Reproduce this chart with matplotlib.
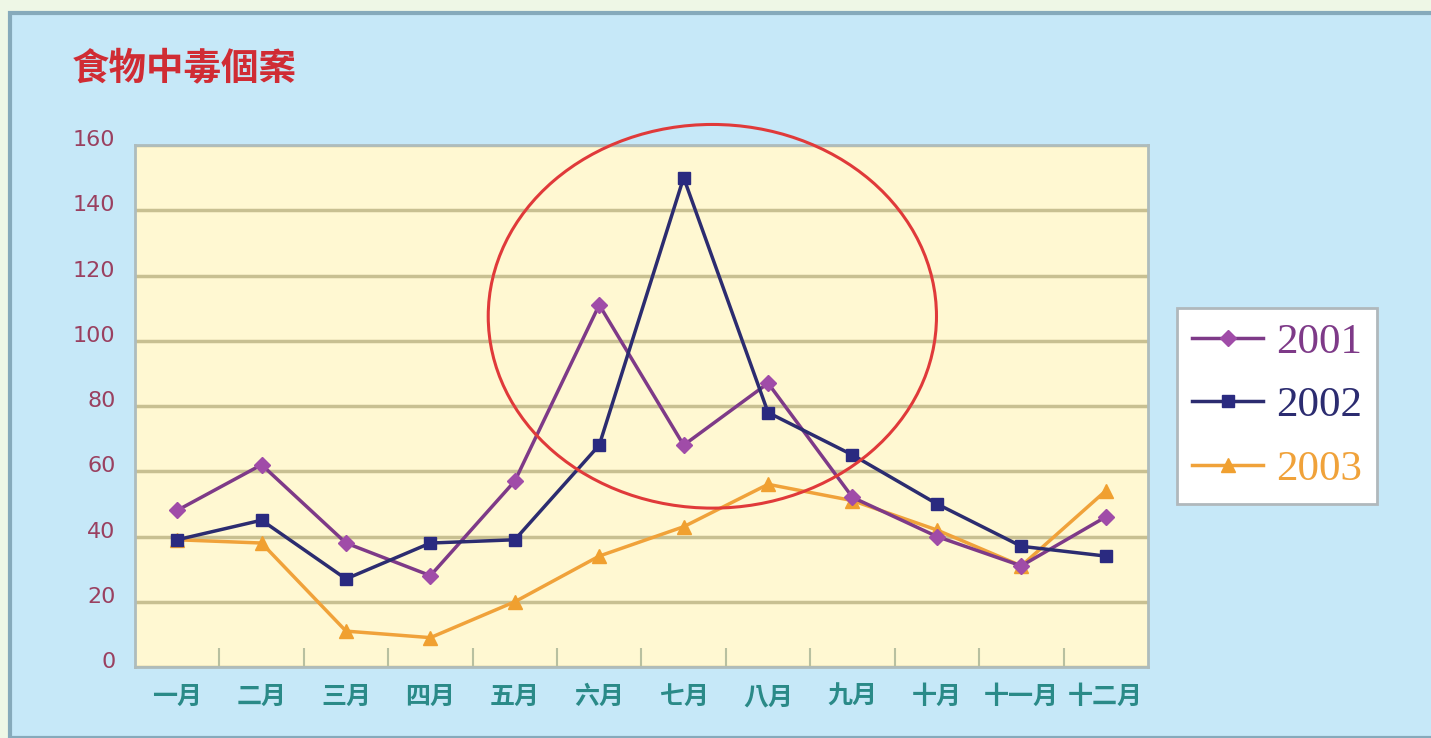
import matplotlib
matplotlib.use("Agg")
import matplotlib.pyplot as plt
import matplotlib.transforms as mtransforms
from matplotlib.patches import Ellipse, Rectangle
import numpy as np

plt.rcParams['font.family'] = ['Noto Sans CJK TC', 'DejaVu Sans']

months = ["一月", "二月", "三月", "四月", "五月", "六月",
          "七月", "八月", "九月", "十月", "十一月", "十二月"]
years = ["2001", "2002", "2003"]
cases_2001 = [48, 62, 38, 28, 57, 111, 68, 87, 52, 40, 31, 46]
cases_2002 = [39, 45, 27, 38, 39, 68, 150, 78, 65, 50, 37, 34]
cases_2003 = [39, 38, 11, 9, 20, 34, 43, 56, 51, 42, 31, 54]
yticks = [0, 20, 40, 60, 80, 100, 120, 140, 160]

fig = plt.figure(figsize=(14.31, 7.38), dpi=100)
fig.patch.set_facecolor("#eef7e6")

# light blue panel behind everything
panel = Rectangle((10 / 1431, 0), 1.0, 1 - 13 / 738, transform=fig.transFigure,
                  facecolor="#c6e8f8", edgecolor="#86aabb", linewidth=3, zorder=-10)
fig.patches.append(panel)

ax = fig.add_axes([0.0943, 0.0962, 0.8022 - 0.0943, 0.8035 - 0.0962])
ax.set_facecolor("#fff8d2")

x = np.arange(len(months))
ax.plot(x, cases_2001, color="#7e3a88", marker="D", markersize=8,
        markerfacecolor="#a04ca8", markeredgecolor="#a04ca8", linewidth=2.5, label=years[0], zorder=4)
ax.plot(x, cases_2002, color="#2c2c70", marker="s", markersize=8,
        markerfacecolor="#2a2a80", markeredgecolor="#2a2a80", linewidth=2.5, label=years[1], zorder=4)
ax.plot(x, cases_2003, color="#f0a23a", marker="^", markersize=10,
        markerfacecolor="#f0a030", markeredgecolor="#f0a030", linewidth=2.5, label=years[2], zorder=3)

ax.set_xlim(-0.5, len(months) - 0.5)
ax.set_ylim(0, 160)
ax.set_yticks(yticks)
ax.set_yticklabels([str(v) for v in yticks], fontsize=16, color="#9a4060",
                   family=['DejaVu Sans'])
ax.set_xticks(x)
ax.set_xticklabels(months, fontsize=18, color="#2a8a88", fontweight="bold")
ax.tick_params(axis="y", length=0, pad=14)
ax.tick_params(axis="x", which="major", length=0, pad=13)
ax.set_xticks(np.arange(0.5, len(months) - 0.5, 1), minor=True)
ax.tick_params(axis="x", which="minor", direction="in", length=14, width=1.5, color="#b8c0a0")

# y labels sit a little above their gridlines in the original
shift = mtransforms.ScaledTranslation(0, 7 / 100, fig.dpi_scale_trans)
for lab in ax.get_yticklabels():
    lab.set_transform(lab.get_transform() + shift)

ax.yaxis.grid(True, color="#c8c092", linewidth=2.5)
ax.set_axisbelow(True)
for side in ["top", "right", "bottom", "left"]:
    ax.spines[side].set_color("#aebcbc")
    ax.spines[side].set_linewidth(2)

# highlight circle around the summer peak
ell = Ellipse((6.34, 107.5), 5.31, 117.6, fill=False, edgecolor="#e03a3a",
              linewidth=2.2, clip_on=False, zorder=5)
ax.add_patch(ell)

fig.text(72 / 1431, 1 - 68 / 738, "食物中毒個案", fontsize=27, fontweight="bold",
         color="#d02c34", va="center", ha="left")

leg = ax.legend(loc="upper left", bbox_to_anchor=(0.8225, 0.5827),
                bbox_transform=fig.transFigure, fancybox=False, frameon=True,
                framealpha=1.0,
                prop={"family": "Liberation Serif", "size": 31},
                handlelength=1.65, handletextpad=0.3, borderpad=0.35, labelspacing=0.56,
                borderaxespad=0)
leg.get_frame().set_edgecolor("#b0b8bc")
leg.get_frame().set_linewidth(2)
leg.get_frame().set_facecolor("#ffffff")
for txt, col in zip(leg.get_texts(), ["#7e3a88", "#2c2c70", "#f0a23a"]):
    txt.set_color(col)

fig.savefig("out.png", dpi=100, facecolor=fig.get_facecolor())
